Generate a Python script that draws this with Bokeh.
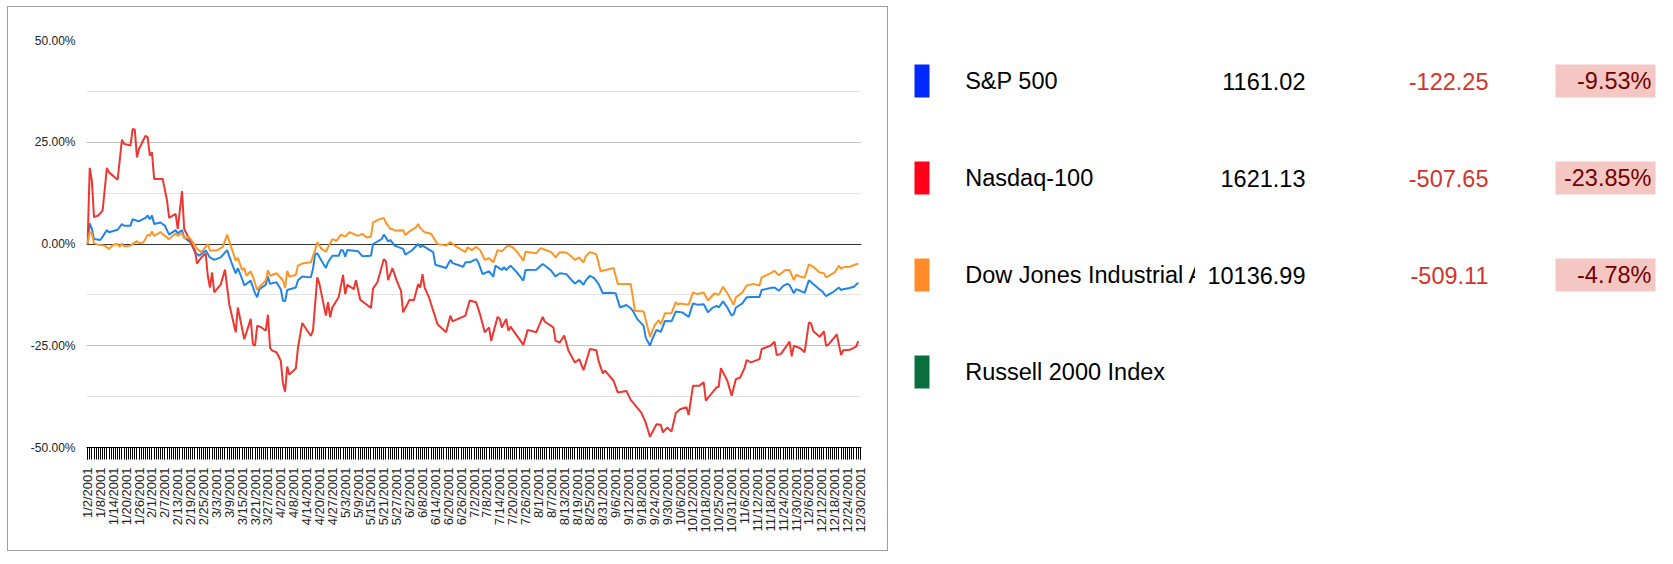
import math

import pandas as pd
from bokeh.core.properties import value
from bokeh.embed import file_html
from bokeh.layouts import row
from bokeh.models import FixedTicker, Grid, PrintfTickFormatter, Range1d
from bokeh.plotting import figure
from bokeh.resources import INLINE

FONT = "Liberation Sans"

# one slot per day on the date axis, as in the sheet (two days are missing there)
days = pd.date_range("2001-01-02", "2001-12-30")
days = days[~days.isin(pd.to_datetime(["2001-04-22", "2001-10-21"]))]
categories = [f"{d.month}/{d.day}/{d.year}" for d in days]
slot = {c: i for i, c in enumerate(categories)}

# change since 1/2/2001, in percent
sp_dates = ["1/2", "1/3", "1/4", "1/5", "1/8", "1/11", "1/12", "1/16", "1/18", "1/19", "1/22", "1/23", "1/25", "1/26", "1/29", "1/30", "1/31",
            "2/1", "2/2", "2/5", "2/7", "2/9", "2/12", "2/13", "2/15", "2/16", "2/19", "2/21", "2/23", "2/26", "2/28",
            "3/2", "3/5", "3/8", "3/10", "3/12", "3/13", "3/15", "3/16", "3/19", "3/21", "3/22", "3/23", "3/26", "3/27", "3/28", "3/31",
            "4/2", "4/3", "4/4", "4/5", "4/9", "4/10", "4/12", "4/16", "4/17", "4/18", "4/19", "4/21", "4/24", "4/25", "4/27", "4/30",
            "5/1", "5/2", "5/3", "5/4", "5/9", "5/11", "5/15", "5/16", "5/20", "5/21", "5/22", "5/23", "5/24", "5/26", "5/30", "5/31",
            "6/3", "6/6", "6/7", "6/8", "6/13", "6/14", "6/19", "6/21", "6/22", "6/27", "6/28", "6/30",
            "7/3", "7/4", "7/6", "7/9", "7/11", "7/12", "7/15", "7/16", "7/17", "7/19", "7/22", "7/25", "7/26", "7/31",
            "8/3", "8/5", "8/7", "8/9", "8/11", "8/14", "8/16", "8/18", "8/20", "8/22", "8/23", "8/25", "8/27", "8/29", "8/31",
            "9/3", "9/6", "9/8", "9/11", "9/13", "9/14", "9/16", "9/19", "9/20", "9/22", "9/23", "9/25", "9/27", "9/29",
            "10/2", "10/4", "10/7", "10/10", "10/12", "10/14", "10/17", "10/19", "10/22", "10/24", "10/25", "10/27", "10/29", "10/31",
            "11/1", "11/2", "11/5", "11/7", "11/10", "11/13", "11/14", "11/18", "11/20", "11/22", "11/24", "11/26", "11/27", "11/29", "11/30",
            "12/2", "12/4", "12/6", "12/8", "12/11", "12/12", "12/14", "12/17", "12/20", "12/21", "12/22", "12/25", "12/27", "12/29"]
sp_pct = [0, 5.1, 3.7, 1.2, 1.0, 3.4, 2.9, 3.5, 4.9, 4.5, 4.5, 6.1, 5.7, 5.6, 6.4, 7.0, 6.1,
          7.0, 4.9, 5.3, 4.5, 2.3, 3.4, 2.6, 3.4, 1.6, 0.4, -2.0, -2.9, -1.6, -3.3,
          -3.9, -3.3, -1.5, -4.5, -7.2, -5.9, -8.6, -10.2, -9.0, -12.1, -13.1, -11.1, -10.0, -8.0, -9.8, -9.4,
          -11.1, -13.9, -14.1, -11.3, -10.7, -8.9, -8.0, -8.2, -6.1, -2.5, -2.3, -4.1, -5.9, -4.5, -2.9, -2.9,
          -1.5, -1.6, -3.1, -1.5, -1.8, -3.0, -2.9, 0.0, 1.2, 2.3, 1.6, 0.6, 1.0, -0.4, -1.2, -2.6,
          -1.6, 0.0, -0.8, -0.4, -2.0, -5.1, -5.9, -3.9, -4.7, -5.6, -4.5, -4.5,
          -3.7, -4.5, -7.4, -6.7, -8.0, -5.3, -6.4, -5.7, -6.4, -5.3, -7.0, -9.0, -6.4, -6.3,
          -4.9, -5.7, -6.6, -8.0, -7.2, -7.4, -8.6, -9.7, -8.9, -10.0, -9.0, -7.8, -8.4, -9.8, -12.1,
          -12.0, -12.1, -15.6, -15.0, -15.8, -16.4, -18.4, -20.1, -23.0, -25.0, -23.4, -21.1, -21.6, -18.9,
          -19.0, -16.6, -16.8, -17.9, -14.6, -14.9, -14.8, -16.8, -15.7, -15.2, -15.6, -14.1, -15.6, -17.6,
          -17.2, -15.6, -14.6, -13.1, -13.0, -13.0, -11.3, -10.8, -10.7, -11.5, -10.3, -9.8, -10.1, -12.1, -11.1,
          -11.5, -12.0, -8.9, -9.8, -11.2, -11.5, -12.8, -11.9, -10.7, -11.3, -11.1, -10.8, -10.5, -9.53]

nasdaq_dates = ["1/2", "1/3", "1/4", "1/5", "1/7", "1/9", "1/11", "1/12", "1/16", "1/18", "1/19", "1/22", "1/23", "1/24", "1/25", "1/26", "1/29", "1/30", "1/31",
                "2/1", "2/2", "2/6", "2/8", "2/9", "2/12", "2/13", "2/15", "2/16", "2/18", "2/19", "2/21", "2/22", "2/24", "2/26", "2/27", "2/28",
                "3/1", "3/2", "3/5", "3/7", "3/9", "3/12", "3/13", "3/16", "3/19", "3/20", "3/21", "3/22", "3/24", "3/26", "3/27", "3/28", "3/29", "3/31",
                "4/2", "4/3", "4/4", "4/5", "4/6", "4/9", "4/10", "4/12", "4/16", "4/17", "4/19", "4/20", "4/24", "4/25", "4/26", "4/27", "4/30",
                "5/2", "5/3", "5/4", "5/7", "5/8", "5/10", "5/15", "5/16", "5/18", "5/21", "5/22", "5/23", "5/25", "5/27", "5/29", "5/30",
                "6/2", "6/4", "6/6", "6/7", "6/8", "6/9", "6/11", "6/15", "6/19", "6/21", "6/22", "6/28", "6/30",
                "7/3", "7/5", "7/7", "7/9", "7/10", "7/13", "7/14", "7/15", "7/17", "7/18", "7/19", "7/25", "7/27", "7/31",
                "8/3", "8/4", "8/8", "8/9", "8/11", "8/13", "8/15", "8/18", "8/20", "8/22", "8/23", "8/25", "8/28", "8/29", "8/31",
                "9/1", "9/5", "9/7", "9/11", "9/13", "9/18", "9/20", "9/22", "9/23", "9/25", "9/27", "9/28", "9/30",
                "10/2", "10/4", "10/6", "10/9", "10/10", "10/12", "10/15", "10/17", "10/18", "10/22", "10/24", "10/25", "10/26", "10/29", "10/31",
                "11/2", "11/4", "11/6", "11/7", "11/9", "11/13", "11/14", "11/18", "11/20", "11/21", "11/23", "11/27", "11/28", "11/29",
                "12/2", "12/4", "12/6", "12/7", "12/8", "12/11", "12/13", "12/14", "12/15", "12/19", "12/21", "12/22", "12/25", "12/28", "12/29"]
nasdaq_pct = [0, 18.7, 15.5, 6.6, 7.0, 8.2, 18.7, 17.6, 15.8, 25.6, 24.6, 24.2, 28.3, 28.1, 21.3, 23.4, 26.6, 26.2, 21.7,
              22.5, 16.0, 16.0, 10.7, 6.4, 7.4, 3.7, 13.0, 3.7, 1.6, 0.4, -1.6, -4.8, -3.3, -2.3, -7.8, -10.7,
              -7.0, -11.9, -10.0, -6.3, -14.8, -21.7, -15.6, -23.4, -18.4, -24.6, -25.0, -20.1, -20.5, -21.3, -17.4, -25.5, -26.2, -26.6,
              -28.7, -34.2, -36.3, -30.1, -32.1, -30.6, -25.5, -19.4, -22.6, -21.3, -8.2, -9.8, -17.6, -14.3, -18.0, -15.6, -13.0,
              -7.6, -12.3, -10.0, -11.1, -8.9, -13.7, -15.7, -10.9, -9.4, -3.7, -4.3, -8.9, -5.9, -9.0, -11.5, -16.8,
              -13.7, -13.8, -9.8, -10.7, -7.4, -10.7, -13.1, -19.7, -21.7, -17.6, -19.0, -17.6, -13.9,
              -14.3, -17.6, -21.7, -20.5, -23.8, -17.9, -18.4, -20.5, -18.4, -21.3, -20.3, -24.8, -21.1, -21.7,
              -17.9, -19.1, -20.5, -23.8, -24.2, -22.5, -26.2, -29.1, -28.3, -31.0, -29.3, -25.8, -26.1, -28.7, -31.8,
              -31.1, -33.6, -36.5, -36.1, -38.3, -41.5, -43.9, -47.4, -46.3, -44.3, -44.4, -46.3, -45.1,
              -46.1, -41.5, -40.6, -40.1, -42.0, -34.8, -34.8, -34.0, -38.5, -36.5, -35.2, -35.1, -30.5, -33.6, -37.3,
              -33.2, -32.8, -30.5, -28.5, -29.1, -28.3, -25.8, -25.0, -24.0, -27.3, -27.0, -24.0, -27.6, -25.0,
              -25.6, -26.6, -19.3, -19.5, -21.4, -22.8, -21.5, -25.0, -24.8, -22.2, -27.3, -26.1, -26.0, -25.2, -23.85]

dow_dates = ["1/2", "1/3", "1/4", "1/5", "1/7", "1/10", "1/12", "1/14", "1/16", "1/17", "1/18", "1/19", "1/22", "1/25", "1/26", "1/28", "1/30", "1/31",
             "2/1", "2/2", "2/5", "2/7", "2/9", "2/12", "2/13", "2/15", "2/16", "2/18", "2/19", "2/22", "2/24", "2/27", "2/28",
             "3/3", "3/6", "3/8", "3/11", "3/12", "3/13", "3/15", "3/16", "3/17", "3/19", "3/20", "3/22", "3/24", "3/26", "3/27", "3/28", "3/31",
             "4/3", "4/4", "4/5", "4/6", "4/9", "4/10", "4/12", "4/16", "4/18", "4/19", "4/21", "4/24", "4/27", "4/29",
             "5/1", "5/3", "5/5", "5/9", "5/11", "5/13", "5/15", "5/16", "5/19", "5/21", "5/22", "5/24", "5/25", "5/26", "5/30", "5/31",
             "6/2", "6/5", "6/6", "6/7", "6/9", "6/12", "6/15", "6/19", "6/21", "6/23", "6/28", "6/29",
             "7/1", "7/3", "7/5", "7/7", "7/9", "7/11", "7/13", "7/15", "7/17", "7/18", "7/20", "7/22", "7/25", "7/26", "7/31",
             "8/2", "8/5", "8/7", "8/9", "8/11", "8/14", "8/16", "8/18", "8/20", "8/22", "8/23", "8/25", "8/28", "8/30",
             "9/5", "9/7", "9/13", "9/15", "9/19", "9/22", "9/24", "9/26", "9/27", "9/29",
             "10/2", "10/4", "10/5", "10/6", "10/10", "10/12", "10/14", "10/17", "10/19", "10/23", "10/25", "10/27", "10/29",
             "11/1", "11/2", "11/5", "11/7", "11/10", "11/13", "11/14", "11/18", "11/20", "11/22", "11/25", "11/27", "11/29", "11/30",
             "12/2", "12/4", "12/6", "12/8", "12/11", "12/13", "12/14", "12/18", "12/20", "12/21", "12/22", "12/25", "12/29"]
dow_pct = [0, 2.9, 2.6, 0.2, -0.2, -0.4, -1.2, -0.2, 0.0, -0.7, 0.2, -0.6, -0.4, 0.7, 0.2, 0.4, 2.3, 2.0,
           3.1, 2.0, 2.9, 2.0, 1.2, 2.6, 2.0, 2.7, 1.4, 1.8, 1.2, -1.2, -2.0, 0.0, -1.6,
           -1.6, -0.7, 2.3, -2.5, -4.1, -3.4, -6.4, -5.9, -7.8, -6.7, -8.0, -11.3, -10.0, -9.0, -6.5, -7.8, -7.2,
           -8.9, -10.8, -6.6, -8.0, -7.6, -5.3, -4.8, -4.5, -1.5, 0.4, -1.2, -1.9, 1.2, 0.8,
           2.3, 1.8, 2.9, 2.0, 2.5, 1.6, 1.8, 5.3, 6.1, 6.4, 5.2, 3.7, 3.7, 3.3, 3.4, 2.2,
           3.1, 4.1, 4.9, 3.9, 2.9, 2.5, 0.0, -0.4, 0.5, -0.4, -2.0, -0.8,
           -1.5, -0.7, -1.6, -3.9, -3.5, -4.5, -1.5, -1.8, -0.7, -0.4, -0.8, -1.9, -4.1, -1.9, -2.3,
           -1.0, -1.6, -2.0, -3.3, -2.0, -2.1, -2.9, -3.9, -3.3, -4.5, -3.1, -2.0, -2.5, -6.7,
           -5.9, -9.8, -9.8, -16.4, -16.6, -22.8, -20.1, -18.7, -19.7, -17.0,
           -17.0, -14.3, -14.9, -14.6, -14.9, -11.9, -12.3, -11.9, -13.9, -12.1, -12.5, -10.5, -12.1,
           -14.9, -13.1, -11.9, -10.2, -9.8, -10.2, -8.2, -7.2, -6.6, -7.7, -6.4, -6.4, -8.9, -7.6,
           -8.0, -8.3, -5.0, -5.6, -7.0, -7.2, -8.2, -7.0, -5.3, -6.1, -5.7, -5.6, -4.78]

# summary table on the right
index_names = ["S&P 500", "Nasdaq-100", "Dow Jones Industrial Average", "Russell 2000 Index"]
last_close = ["1161.02", "1621.13", "10136.99"]
net_change = ["-122.25", "-507.65", "-509.11"]
pct_change = ["-9.53%", "-23.85%", "-4.78%"]

line_colors = ["#2185e6", "#ee3731", "#fd9527"]
swatch_colors = ["#0029ff", "#ff0018", "#ff8c28", "#0b6e3d"]

# ---- line chart ----
p = figure(width=881, height=545,
           x_range=Range1d(-0.5, len(categories) - 0.5),
           y_range=Range1d(-50, 50),
           output_backend="svg", toolbar_location=None,
           min_border_left=78, min_border_right=28,
           min_border_top=33, min_border_bottom=105)
p.styles = {"border": "1px solid #9e9e9e", "margin": "6px 0px 0px 7px"}
p.outline_line_color = None

for dates, vals, color in [(sp_dates, sp_pct, line_colors[0]),
                           (nasdaq_dates, nasdaq_pct, line_colors[1]),
                           (dow_dates, dow_pct, line_colors[2])]:
    p.line([slot[f"{d}/2001"] for d in dates], vals, line_color=color, line_width=2)

yticks = FixedTicker(ticks=[-50, -25, 0, 25, 50], minor_ticks=[-37.5, -12.5, 12.5, 37.5])
p.yaxis.ticker = yticks
p.ygrid.ticker = yticks
p.yaxis.formatter = PrintfTickFormatter(format="%.2f%%")
p.yaxis.axis_line_color = None
p.yaxis.major_tick_line_color = None
p.yaxis.minor_tick_line_color = None
p.yaxis.major_tick_out = 0
p.yaxis.major_label_standoff = 7
p.yaxis.major_label_text_font = FONT
p.yaxis.major_label_text_font_size = "12px"
p.yaxis.major_label_text_color = "#222222"

p.ygrid.grid_line_color = "#c4c4c4"
p.ygrid.minor_grid_line_color = "#e4e4e4"
p.xgrid.grid_line_color = None
# baseline at zero
p.add_layout(Grid(dimension=1, ticker=FixedTicker(ticks=[0]), grid_line_color="#333333"))

labelled = list(range(0, len(categories), 6))
xticks = FixedTicker(ticks=labelled, minor_ticks=list(range(len(categories))))
p.xaxis.ticker = xticks
p.xgrid.ticker = xticks
p.xaxis.major_label_overrides = {i: categories[i] for i in labelled}
p.xaxis.major_label_orientation = math.pi / 2
p.xaxis.major_tick_in = 0
p.xaxis.major_tick_out = 12
p.xaxis.minor_tick_in = 0
p.xaxis.minor_tick_out = 12
p.xaxis.major_tick_line_color = "black"
p.xaxis.minor_tick_line_color = "black"
p.xaxis.axis_line_color = "black"
p.xaxis.major_label_standoff = 8
p.xaxis.major_label_text_font = FONT
p.xaxis.major_label_text_font_size = "13px"
p.xaxis.major_label_text_color = "#222222"

# ---- table beside the chart; the row lines up plot frames, so the y range
# spans the same page rows as the chart frame (40 to 447) ----
def panel(width, x0):
    f = figure(width=width, height=545,
               x_range=Range1d(x0, x0 + width), y_range=Range1d(447, 40),
               output_backend="svg", toolbar_location=None,
               x_axis_location=None, y_axis_location=None,
               min_border_left=0, min_border_right=0,
               min_border_top=33, min_border_bottom=105)
    f.styles = {"margin-top": "6px"}
    f.grid.grid_line_color = None
    f.outline_line_color = None
    return f


row_gap = 97
mids = [81.5 + row_gap * k for k in range(len(index_names))]
tops = [65 + row_gap * k for k in range(len(index_names))]
big = value("23.5px")

names_fig = panel(307, 890)
names_fig.quad(left=916, right=931, top=tops, bottom=[t + 33 for t in tops],
               fill_color=swatch_colors, line_color=None)
names_fig.text(x=966.7, y=mids, text=index_names, text_font=value(FONT),
               text_font_size=big, text_baseline="middle", text_color="black")

n = len(last_close)
nums_fig = panel(467, 1197)
nums_fig.text(x=1307, y=mids[:n], text=last_close, text_font=value(FONT),
              text_font_size=big, text_align="right", text_baseline="middle",
              text_color="black")
nums_fig.text(x=1490, y=mids[:n], text=net_change, text_font=value(FONT),
              text_font_size=big, text_align="right", text_baseline="middle",
              text_color="#d2342c")
nums_fig.quad(left=1557, right=1657, top=tops[:n], bottom=[t + 33 for t in tops[:n]],
              fill_color="#f4c7c3", line_color=None)
nums_fig.text(x=1653, y=mids[:n], text=pct_change, text_font=value(FONT),
              text_font_size=big, text_align="right", text_baseline="middle",
              text_color="#730000")

layout = row(p, names_fig, nums_fig)
open("out.html", "w").write(file_html(layout, INLINE))
